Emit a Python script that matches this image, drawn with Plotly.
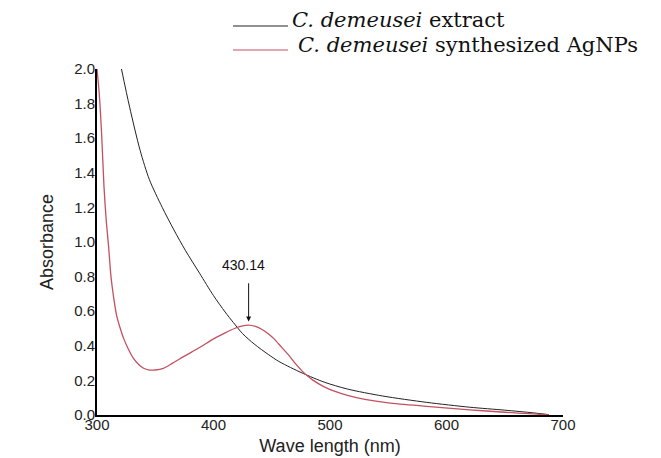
import plotly.graph_objects as go

# ---- data ----
extract_wl = [321, 328, 337, 345, 356, 366, 376, 388, 400, 410, 417, 425, 435,
              447, 456, 466, 477, 495, 515, 545, 583, 620, 650, 675, 688]
extract_abs = [2.00, 1.78, 1.53, 1.36, 1.20, 1.07, 0.95, 0.82, 0.69, 0.595, 0.535,
               0.47, 0.41, 0.35, 0.31, 0.275, 0.24, 0.19, 0.15, 0.11, 0.073, 0.045,
               0.028, 0.012, 0.002]

agnp_wl = [300, 302, 304, 306, 308, 310, 312, 314.5, 317, 320, 323, 327, 331, 336, 340,
           345, 350, 357, 365, 375, 388, 400, 410, 418, 425, 430, 436, 442, 447, 452,
           458, 464, 470, 477, 485, 495, 505, 515, 530, 550, 583, 620, 650, 675, 688]
agnp_abs = [2.00, 1.85, 1.62, 1.32, 1.12, 0.97, 0.80, 0.67, 0.57, 0.50, 0.44, 0.38,
            0.33, 0.29, 0.27, 0.26, 0.26, 0.27, 0.30, 0.34, 0.39, 0.44, 0.475, 0.50,
            0.515, 0.52, 0.512, 0.493, 0.47, 0.44, 0.395, 0.35, 0.30, 0.248, 0.203,
            0.163, 0.135, 0.113, 0.09, 0.07, 0.05, 0.03, 0.016, 0.006, 0.0]

x_ticks = [300, 400, 500, 600, 700]
y_ticks = [0.0, 0.2, 0.4, 0.6, 0.8, 1.0, 1.2, 1.4, 1.6, 1.8, 2.0]
peak_label = "430.14"
peak_wl = 430.14
series_names = ["<i>C. demeusei</i> extract", "<i>C. demeusei</i> synthesized AgNPs"]

BLACK = "#222222"
RED = "#c4505f"

W, H = 661, 458
ML, MR, MT, MB = 97, 98, 69, 43
PW, PH = W - ML - MR, H - MT - MB


def px(x):
    return (x - ML) / PW


def py(y):
    return (H - MB - y) / PH


fig = go.Figure()
fig.add_trace(go.Scatter(x=extract_wl, y=extract_abs, mode="lines",
                         line=dict(color=BLACK, width=1, shape="spline", smoothing=0.8),
                         showlegend=False))
fig.add_trace(go.Scatter(x=agnp_wl, y=agnp_abs, mode="lines",
                         line=dict(color=RED, width=1.3, shape="spline", smoothing=0.8),
                         showlegend=False))

# custom legend (lines + serif text above the plot)
legend_rows = [(26, 20, BLACK, 290), (50, 45, RED, 296)]
for (ly, ty, col, tx), name in zip(legend_rows, series_names):
    fig.add_shape(type="line", xref="paper", yref="paper",
                  x0=px(233), x1=px(288), y0=py(ly), y1=py(ly),
                  line=dict(color=col, width=1.2))
    fig.add_annotation(xref="paper", yref="paper", x=px(tx), y=py(ty),
                       xanchor="left", yanchor="middle", showarrow=False,
                       text=name, font=dict(family="DejaVu Serif", size=21, color="#111"))

# peak annotation
fig.add_annotation(x=peak_wl, y=0.54, ax=peak_wl, ay=0.77, axref="x", ayref="y",
                   xref="x", yref="y", text="", showarrow=True,
                   arrowhead=2, arrowsize=1, arrowwidth=1, arrowcolor="#111")
fig.add_annotation(x=peak_wl, y=0.865, xref="x", yref="y", xshift=-5, text=peak_label,
                   showarrow=False, font=dict(family="Liberation Sans", size=14, color="#111"))

axis_font = dict(family="Liberation Sans", size=15, color="#222")
fig.update_layout(
    width=W, height=H,
    margin=dict(l=ML, r=MR, t=MT, b=MB),
    paper_bgcolor="white", plot_bgcolor="white",
    xaxis=dict(range=[300, 700], tickvals=x_ticks, ticktext=[str(v) for v in x_ticks],
               showgrid=False, zeroline=False, showline=True, linecolor="black",
               linewidth=2, ticks="", tickfont=axis_font, automargin=False,
               ticklabelstandoff=-5,
               title=dict(text="Wave length (nm)", font=dict(family="Liberation Sans", size=18, color="#222"),
                          standoff=7)),
    yaxis=dict(range=[0, 2], tickvals=y_ticks, ticktext=[f"{v:.1f}" for v in y_ticks],
               showgrid=False, zeroline=False, showline=True, linecolor="black",
               linewidth=2, ticks="", tickfont=axis_font, ticklabelstandoff=-3, automargin=False,
               title=dict(text="Absorbance", font=dict(family="Liberation Sans", size=18, color="#222"),
                          standoff=16)),
)

fig.write_html("out.html")
